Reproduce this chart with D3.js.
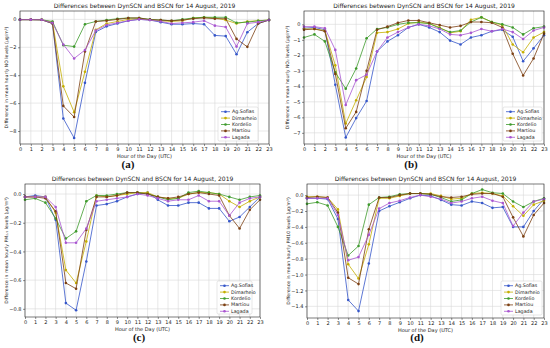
<!DOCTYPE html>
<html><head><meta charset="utf-8">
<script src="https://cdn.jsdelivr.net/npm/d3@7"></script>
<style>
html,body{margin:0;padding:0;background:#fff;}
svg{display:block;font-family:"DejaVu Sans",sans-serif;}
</style></head>
<body>
<svg id="chart" width="550" height="348"></svg>
<script>
// ---------- data ----------
const hours = d3.range(0, 24);
const stations = ["Ag.Sofias", "Dimarheio", "Kordelio", "Martiou", "Lagada"];
const stationColors = ["#3556c9", "#c4ae00", "#3e9a2c", "#7b3f12", "#a855d0"];
const titleText = "Differences between DynSCN and BSCN for 14 August, 2019";
const xLabel = "Hour of the Day (UTC)";
const panelLetters = ["(a)", "(b)", "(c)", "(d)"];
const yLabels = [
  "Difference in mean hourly NO levels (μg/m³)",
  "Difference in mean hourly NO₂ levels (μg/m³)",
  "Difference in mean hourly PM₂.₅ levels (μg/m³)",
  "Difference in mean hourly PM10 levels (μg/m³)"
];
const yTicksA = [0, -2, -4, -6, -8];
const yTicksB = [0, -1, -2, -3, -4, -5, -6, -7];
const yTicksC = [0, -0.2, -0.4, -0.6, -0.8];
const yTicksD = [0, -0.2, -0.4, -0.6, -0.8, -1.0, -1.2, -1.4];

// NO (a): rows = stations order
const noValues = [
  [-0.02,-0.02,-0.03,-0.3,-7.1,-8.5,-4.55,-0.9,-0.5,-0.3,-0.1,0.0,-0.05,-0.2,-0.35,-0.35,-0.3,-0.35,-1.15,-1.2,-2.5,-0.92,-0.3,-0.05],
  [-0.02,-0.02,-0.03,-0.2,-4.8,-6.65,-3.75,-0.75,-0.3,-0.15,0.0,0.05,-0.03,-0.1,-0.15,-0.1,0.1,0.15,0.1,-0.05,-0.3,-0.15,-0.1,-0.05],
  [-0.02,-0.02,-0.03,-0.15,-1.85,-1.95,-0.35,-0.15,-0.05,0.05,0.1,0.1,0.0,-0.05,-0.1,0.0,0.1,0.15,0.15,0.15,-0.25,-0.2,-0.1,-0.05],
  [-0.02,-0.02,-0.03,-0.3,-6.2,-7.0,-2.3,-0.15,-0.1,0.0,0.1,0.1,-0.02,-0.05,-0.1,-0.05,0.05,0.1,0.05,0.05,-1.4,-1.97,-0.3,-0.05],
  [-0.02,-0.02,-0.03,-0.25,-1.8,-2.8,-2.2,-0.8,-0.4,-0.25,-0.1,0.0,-0.05,-0.15,-0.3,-0.25,-0.2,-0.1,-0.45,-0.55,-1.95,-0.3,-0.2,-0.05]
];
// NO2 (b)
const no2Values = [
  [-0.25,-0.2,-0.35,-3.9,-7.3,-6.05,-4.95,-1.75,-1.1,-0.7,-0.2,0.0,-0.2,-0.5,-1.05,-1.3,-0.85,-0.7,-0.45,-0.35,-0.8,-2.38,-1.55,-0.7],
  [-0.3,-0.3,-0.4,-2.65,-6.4,-4.9,-3.4,-0.55,-0.5,-0.3,0.05,0.15,0.05,-0.2,-0.55,-0.45,0.3,0.45,0.15,-0.05,-1.3,-1.8,-0.85,-0.5],
  [-0.85,-0.65,-1.1,-3.1,-4.15,-2.85,-0.9,-0.3,-0.2,0.0,0.1,0.1,0.05,-0.25,-0.5,-0.4,0.15,0.45,0.15,0.0,-0.2,-0.65,-0.25,-0.15],
  [-0.35,-0.3,-0.45,-3.2,-6.7,-5.65,-3.0,-0.35,-0.15,0.1,0.25,0.25,0.1,-0.05,-0.2,-0.1,0.15,0.15,0.1,-0.2,-1.9,-3.3,-2.2,-0.6],
  [-0.15,-0.15,-0.25,-1.65,-5.2,-3.6,-3.25,-1.75,-0.85,-0.5,-0.2,0.0,-0.1,-0.3,-0.65,-0.7,-0.55,-0.3,-0.45,-0.3,-0.5,-0.95,-0.4,-0.2]
];
// PM2.5 (c)
const pm25Values = [
  [-0.02,-0.01,-0.02,-0.18,-0.76,-0.81,-0.47,-0.08,-0.07,-0.05,-0.02,0.0,0.01,-0.04,-0.08,-0.08,-0.06,-0.06,-0.1,-0.1,-0.19,-0.16,-0.09,-0.02],
  [-0.02,-0.02,-0.02,-0.13,-0.53,-0.62,-0.33,-0.01,-0.02,-0.01,0.0,0.01,0.01,-0.02,-0.03,-0.03,0.0,0.01,0.01,0.0,-0.05,-0.09,-0.05,-0.02],
  [-0.04,-0.03,-0.06,-0.17,-0.31,-0.26,-0.05,-0.01,-0.01,0.0,0.01,0.01,0.0,-0.02,-0.04,-0.03,0.01,0.02,0.01,0.0,-0.02,-0.04,-0.02,-0.01],
  [-0.02,-0.02,-0.03,-0.12,-0.62,-0.66,-0.25,-0.02,-0.02,-0.01,0.01,0.01,0.0,-0.02,-0.03,-0.02,0.0,0.01,0.0,-0.01,-0.15,-0.24,-0.11,-0.04],
  [-0.02,-0.02,-0.02,-0.09,-0.34,-0.34,-0.24,-0.05,-0.04,-0.03,-0.02,0.0,-0.01,-0.03,-0.05,-0.04,-0.04,-0.01,-0.05,-0.05,-0.15,-0.06,-0.03,-0.02]
];
// PM10 (d)
const pm10Values = [
  [-0.04,-0.04,-0.05,-0.3,-1.32,-1.46,-0.86,-0.2,-0.14,-0.09,-0.04,0.0,-0.01,-0.06,-0.12,-0.13,-0.08,-0.1,-0.16,-0.15,-0.4,-0.4,-0.2,-0.05],
  [-0.02,-0.02,-0.03,-0.18,-0.87,-1.05,-0.62,-0.04,-0.04,-0.01,0.02,0.02,0.02,-0.01,-0.05,-0.04,0.02,0.03,0.02,-0.01,-0.14,-0.26,-0.12,-0.07],
  [-0.11,-0.09,-0.13,-0.4,-0.76,-0.64,-0.12,-0.03,-0.02,0.01,0.02,0.02,0.01,-0.03,-0.08,-0.06,0.02,0.07,0.03,0.02,-0.08,-0.15,-0.08,-0.04],
  [-0.03,-0.02,-0.03,-0.22,-1.04,-1.12,-0.43,-0.03,-0.03,0.0,0.02,0.02,0.01,-0.02,-0.03,-0.02,0.01,0.02,0.02,-0.02,-0.28,-0.52,-0.25,-0.1],
  [-0.04,-0.04,-0.04,-0.25,-0.82,-0.78,-0.5,-0.17,-0.1,-0.07,-0.03,0.0,-0.02,-0.05,-0.1,-0.08,-0.04,-0.02,-0.07,-0.1,-0.39,-0.22,-0.08,-0.05]
];

// ---------- layout ----------
const panels = [
  {values: noValues,   ticks: yTicksA, fmt: d3.format("d"),   dom: [-8.93, 0.6],  box: [20, 269, 11, 144],  ylx: 7,   letter: [128, 168], leg: [218, 107, 40, 34]},
  {values: no2Values,  ticks: yTicksB, fmt: d3.format("d"),   dom: [-7.72, 0.86], box: [304, 544, 11, 144], ylx: 288, letter: [411, 168], leg: [503, 107, 39, 34]},
  {values: pm25Values, ticks: yTicksC, fmt: d3.format(".1f"), dom: [-0.857, 0.07],box: [25, 260, 184, 317], ylx: 7,   letter: [139, 341], leg: [217, 281, 35, 33]},
  {values: pm10Values, ticks: yTicksD, fmt: d3.format(".1f"), dom: [-1.547, 0.14],box: [307, 544, 184, 318],ylx: 289, letter: [417, 341], leg: [501, 281, 41, 34]}
];

const svg = d3.select("#chart");

panels.forEach((p, pi) => {
  const [L, R, T, B] = p.box;
  const x = d3.scaleLinear().domain([0, 23]).range([L, R]);
  const y = d3.scaleLinear().domain(p.dom).range([B, T]);
  const g = svg.append("g");

  // grid
  g.append("g").selectAll("line.vx").data(hours).join("line")
    .attr("x1", d => x(d)).attr("x2", d => x(d)).attr("y1", T).attr("y2", B)
    .attr("stroke", "#d9d9d9").attr("stroke-width", 0.6);
  g.append("g").selectAll("line.hy").data(p.ticks).join("line")
    .attr("x1", L).attr("x2", R).attr("y1", d => y(d)).attr("y2", d => y(d))
    .attr("stroke", "#d9d9d9").attr("stroke-width", 0.6);

  // axes
  const xa = g.append("g").attr("transform", `translate(0,${B})`)
    .call(d3.axisBottom(x).tickValues(hours).tickSize(2).tickPadding(1.5).tickFormat(d3.format("d")));
  const ya = g.append("g").attr("transform", `translate(${L},0)`)
    .call(d3.axisLeft(y).tickValues(p.ticks).tickSize(2).tickPadding(1.5).tickFormat(p.fmt));
  [xa, ya].forEach(a => {
    a.select(".domain").remove();
    a.selectAll("text").attr("font-size", 5).attr("fill", "#222").attr("font-family", "DejaVu Sans");
    a.selectAll("line").attr("stroke", "#222").attr("stroke-width", 0.5);
  });

  // lines
  const line = d3.line().x((d, i) => x(hours[i])).y(d => y(d));
  p.values.forEach((vals, si) => {
    g.append("path").datum(vals).attr("d", line)
      .attr("fill", "none").attr("stroke", stationColors[si]).attr("stroke-width", 0.8);
    g.append("g").selectAll("circle").data(vals).join("circle")
      .attr("cx", (d, i) => x(hours[i])).attr("cy", d => y(d)).attr("r", 1.3)
      .attr("fill", stationColors[si]);
  });

  // frame
  g.append("rect").attr("x", L).attr("y", T).attr("width", R - L).attr("height", B - T)
    .attr("fill", "none").attr("stroke", "#222").attr("stroke-width", 0.6);

  // title
  g.append("text").attr("x", (L + R) / 2).attr("y", T - 3).attr("text-anchor", "middle")
    .attr("font-size", 6).attr("fill", "#222").text(titleText);
  // x label
  g.append("text").attr("x", (L + R) / 2).attr("y", B + 13.5).attr("text-anchor", "middle")
    .attr("font-size", 5).attr("fill", "#222").text(xLabel);
  // y label
  g.append("text").attr("transform", `translate(${p.ylx},${(T + B) / 2}) rotate(-90)`)
    .attr("text-anchor", "middle").attr("dominant-baseline", "middle")
    .attr("font-size", 4.6).attr("fill", "#222").text(yLabels[pi]);
  // panel letter
  g.append("text").attr("x", p.letter[0]).attr("y", p.letter[1]).attr("text-anchor", "middle")
    .attr("font-family", "Liberation Serif, serif").attr("font-weight", "bold")
    .attr("font-size", 11).attr("fill", "#111").text(panelLetters[pi]);

  // legend
  const [lx, ly, lw, lh] = p.leg;
  g.append("rect").attr("x", lx).attr("y", ly).attr("width", lw).attr("height", lh)
    .attr("rx", 1.5).attr("fill", "#fff").attr("fill-opacity", 0.85)
    .attr("stroke", "#ccc").attr("stroke-width", 0.5);
  stations.forEach((s, si) => {
    const yy = ly + 4.7 + si * 6.4;
    g.append("line").attr("x1", lx + 3).attr("x2", lx + 12).attr("y1", yy).attr("y2", yy)
      .attr("stroke", stationColors[si]).attr("stroke-width", 0.8);
    g.append("circle").attr("cx", lx + 7.5).attr("cy", yy).attr("r", 1.3).attr("fill", stationColors[si]);
    g.append("text").attr("x", lx + 14).attr("y", yy).attr("dominant-baseline", "central")
      .attr("font-size", 4.8).attr("fill", "#222").text(s);
  });
});
</script>
</body></html>
